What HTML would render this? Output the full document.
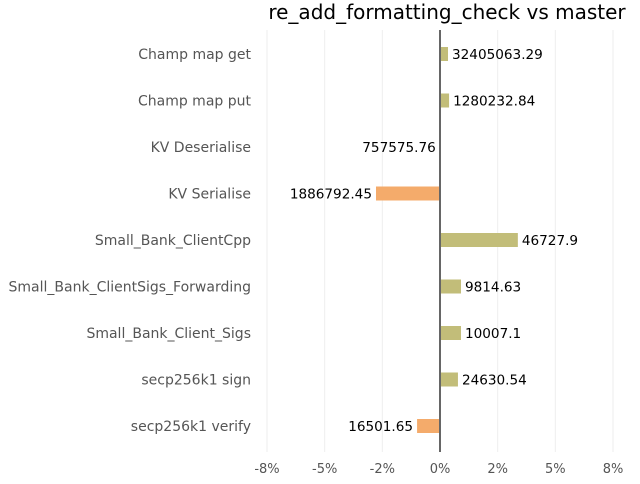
<!DOCTYPE html>
<html><head><meta charset="utf-8"><style>
body{margin:0;background:#fff;font-family:"DejaVu Sans","Liberation Sans",sans-serif;}
svg text{font-family:"DejaVu Sans","Liberation Sans",sans-serif;}
</style></head><body>
<svg id="chart" width="640" height="480">
<text x="447" y="19" text-anchor="middle" font-size="20" fill="#000">re_add_formatting_check vs master</text>
<g id="grid"></g><g id="bars"></g><g id="labels"></g><g id="axis"></g>
</svg>
<script>
const categories=["Champ map get","Champ map put","KV Deserialise","KV Serialise","Small_Bank_ClientCpp","Small_Bank_ClientSigs_Forwarding","Small_Bank_Client_Sigs","secp256k1 sign","secp256k1 verify"];
const changes=[0.37,0.42,-0.01,-2.96,3.6,0.97,0.97,0.83,-1.06];
const valueLabels=["32405063.29","1280232.84","757575.76","1886792.45","46727.9","9814.63","10007.1","24630.54","16501.65"];
const ticks=[-8,-5.333,-2.667,0,2.667,5.333,8];
const tickLabels=["-8%","-5%","-2%","0%","2%","5%","8%"];
const NS="http://www.w3.org/2000/svg";
const x=v=>440+v*21.625;
const y=i=>54+i*46.5;
function mk(tag,attrs,parent,text){const e=document.createElementNS(NS,tag);for(const k in attrs)e.setAttribute(k,attrs[k]);if(text!==undefined)e.textContent=text;document.getElementById(parent).appendChild(e);return e;}
ticks.forEach((t,i)=>{
 const g=mk('line',{x1:x(t),x2:x(t),y1:30,y2:452,stroke:'#eee','stroke-width':1},'grid');
 
 
 const l=mk('text',{x:x(t),y:473,'text-anchor':'middle','font-size':13,fill:'#555'},'axis',tickLabels[i]);
 
 
});
categories.forEach((c,i)=>{
 const v=changes[i];
 const x0=Math.min(x(0),x(v)),w=Math.abs(x(v)-x(0));
 const b=mk('rect',{x:x0,y:y(i)-7,width:w,height:14,fill:v>=0?'#c2bd79':'#f4ab6b'},'bars');
 
 
 const cl=mk('text',{x:251,y:y(i)+5,'text-anchor':'end','font-size':14,fill:'#555'},'labels',c);
 
 
 const vl=mk('text',{x:v>=0?x(v)+4:x(v)-4,y:y(i)+5,'text-anchor':v>=0?'start':'end','font-size':13.6,fill:'#000'},'labels',valueLabels[i]);
 
 
});
const ax=mk('line',{x1:x(0),x2:x(0),y1:30,y2:452,stroke:'#666','stroke-width':2},'axis');


</script>
</body></html>
